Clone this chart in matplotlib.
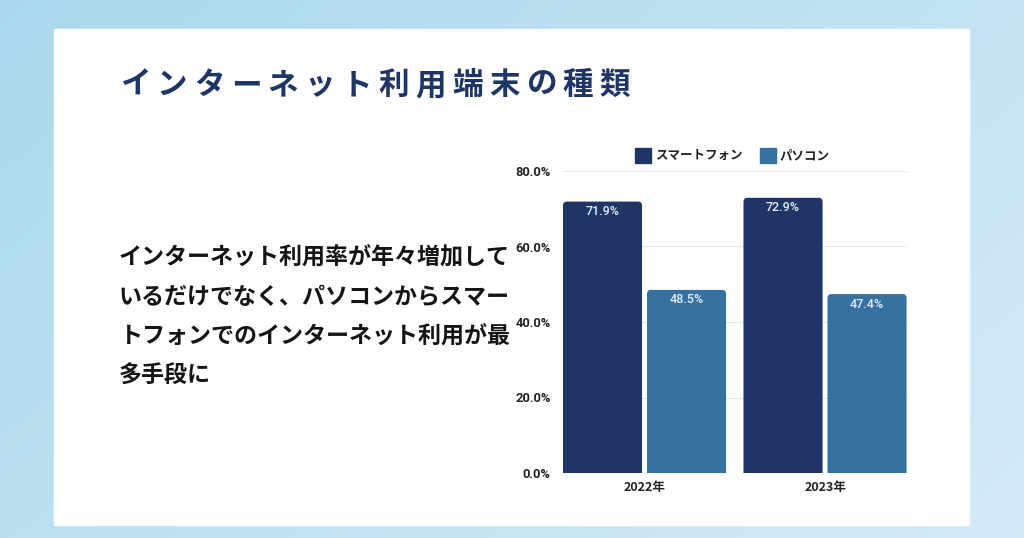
import numpy as np
import matplotlib.pyplot as plt
from matplotlib.patches import Rectangle, FancyBboxPatch

plt.rcParams['font.family'] = ['Noto Sans CJK JP', 'DejaVu Sans']

# datos
years = ['2022年', '2023年']
series_names = ['スマートフォン', 'パソコン']
smartphone = [71.9, 72.9]
pc = [48.5, 47.4]
y_ticks = [0, 20, 40, 60, 80]

title = 'インターネット利用端末の種類'
body_lines = ['インターネット利用率が年々増加して',
              'いるだけでなく、パソコンからスマー',
              'トフォンでのインターネット利用が最',
              '多手段に']

navy = '#1f3566'
blue = '#3571a1'

W, H = 1024, 538
fig = plt.figure(figsize=(W / 100, H / 100), dpi=100)

# fondo degradado
bg = fig.add_axes([0, 0, 1, 1])
gx = np.linspace(0, 1, 200)
gy = np.linspace(0, 1, 120)
gxx, gyy = np.meshgrid(gx, gy)
t = np.clip(0.55 * gxx + 0.35 * (1 - gyy), 0, 1)
c0 = np.array([0.67, 0.85, 0.93])
c1 = np.array([0.85, 0.93, 0.98])
img = c0[None, None, :] * (1 - t[..., None]) + c1[None, None, :] * t[..., None]
bg.imshow(img, extent=[0, W, 0, H], aspect='auto', origin='lower')
bg.add_patch(Rectangle((54, H - 525), 969 - 54, 525 - 29, color='white', zorder=2))
bg.set_xlim(0, W)
bg.set_ylim(0, H)
bg.axis('off')

# titulo con espaciado
x = 120
for ch in title:
    bg.text(x, H - 85, ch, fontsize=22, fontweight='bold', color=navy,
            va='center', ha='left', zorder=3)
    x += 36.9

# texto
for i, line in enumerate(body_lines):
    bg.text(119, H - (258 + i * 39.3), line, fontsize=16.6, fontweight='bold',
            color='#151515', va='center', ha='left', zorder=3)

# grafico
ax = fig.add_axes([563 / W, 65 / H, (907 - 563) / W, (367 - 65) / H])
ax.set_facecolor('none')
xs = np.arange(len(years))
off = 0.2327
bw = 0.438
px_x = 1 / 180.5
px_y = 80 / 302

for vals, sign, col in [(smartphone, -1, navy), (pc, 1, blue)]:
    for xi, v in zip(xs, vals):
        # empieza bajo cero para que las esquinas de abajo queden recortadas
        p = FancyBboxPatch((xi + sign * off - bw / 2, -3), bw, v + 3,
                           boxstyle=f'round,pad=0,rounding_size={4 * px_x}',
                           mutation_aspect=px_y / px_x, fc=col, ec='none', zorder=3)
        ax.add_patch(p)
        ax.text(xi + sign * off, v - 10 * px_y, f'{v}%', ha='center', va='center',
                color='#e8eef6', fontsize=9, family='Roboto', fontweight='medium', zorder=4)

ax.set_xlim(-0.4515, 1.454)
ax.set_ylim(0, 80)
ax.set_yticks(y_ticks)
ax.set_yticklabels([f'{v:.1f}%' for v in y_ticks], fontsize=9.3, family='Roboto',
                   fontweight='bold', color='#222222')
ax.set_xticks(xs)
ax.set_xticklabels(years, fontsize=9, fontweight='bold', color='#222222')
ax.tick_params(length=0, pad=9)
ax.tick_params(axis='x', pad=6)
ax.grid(axis='y', color='#e6e6e6', linewidth=0.8, zorder=0)
for s in ax.spines.values():
    s.set_visible(False)

# leyenda
lx = [635, 760]
for name, col, x0 in zip(series_names, [navy, blue], lx):
    bg.add_patch(Rectangle((x0, H - 163), 16, 15, color=col, zorder=3))
    bg.text(x0 + 20, H - 155.5, name, fontsize=9, fontweight='bold', color='#222222',
            va='center', ha='left', zorder=3)

fig.savefig('out.png', dpi=100)
